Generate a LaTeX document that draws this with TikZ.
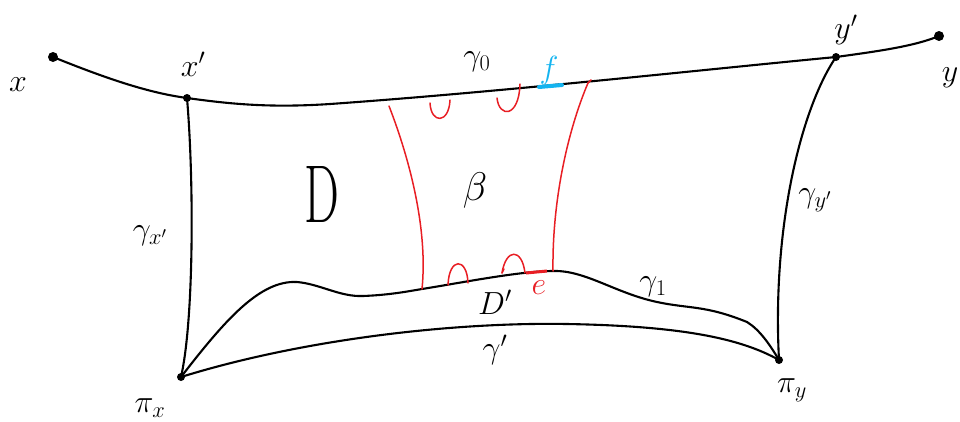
\documentclass[tikz,border=0pt]{standalone}
\usepackage{fix-cm}
\definecolor{myred}{RGB}{232,30,36}
\definecolor{myblue}{RGB}{20,180,240}
\tikzset{
  curve/.style={line width=2.1pt, black, line cap=round, line join=round},
  redline/.style={line width=1.5pt, myred, line cap=round},
  dot/.style={circle, fill=black, inner sep=0pt, minimum size=8pt},
  lbl/.style={font=\fontsize{32}{38}\selectfont, inner sep=0pt},
}
\begin{document}
\begin{tikzpicture}[x=1pt,y=-1pt]
\useasboundingbox (0,0) rectangle (960,421);
% points
\node[dot, minimum size=10pt] (X) at (53,57) {};
\node[dot] (xp) at (187,98) {};
\node[dot] (yp) at (836,57) {};
\node[dot, minimum size=10pt] (Y) at (939,36) {};
\node[dot] (px) at (181,377) {};
\node[dot] (py) at (779,360) {};
\coordinate (la) at (422,289);
\coordinate (rb) at (553,271);
\coordinate (lt) at (389,106);
\coordinate (rt) at (588,83);
% gamma_0
\draw[curve] (X.center) .. controls (110,80) and (150,93) .. (xp.center)
  .. controls (230,104) and (270,108) .. (330,104)
  .. controls (500,92) and (700,70) .. (yp.center)
  .. controls (880,51) and (915,46) .. (Y.center);
% gamma_x' and gamma_y'
\draw[curve] (xp.center) .. controls (194,180) and (194,320) .. (px.center);
\draw[curve] (yp.center) .. controls (800,110) and (772,230) .. (py.center);
% gamma_1
\draw[curve] (px.center) .. controls (225,320) and (260,280) .. (297,282)
  .. controls (320,284) and (340,297) .. (363,296)
  .. controls (390,295) and (410,291) .. (la)
  .. controls (460,283) and (520,271) .. (rb)
  .. controls (585,270) and (615,293) .. (657,302)
  .. controls (690,309) and (705,305) .. (747,322)
  .. controls (760,330) and (770,345) .. (py.center);
% gamma'
\draw[curve] (px.center) .. controls (300,340) and (450,322) .. (567,324)
  .. controls (680,326) and (740,338) .. (py.center);
% red lines
\draw[redline] (lt) .. controls (410,160) and (428,230) .. (la);
\draw[redline] (rt) .. controls (568,130) and (552,200) .. (rb);
\draw[redline] (588,83) -- (591,80);
% small red arcs at top
\draw[redline] (430,103) .. controls (431,124) and (449,124) .. (450,100);
\draw[redline] (497,98) .. controls (499,118) and (519,118) .. (520,84);
% small red arcs at bottom
\draw[redline] (448,285) .. controls (449,257) and (467,257) .. (468,283);
\draw[redline] (504,269) -- (502,273);
\draw[redline] (502,273) .. controls (506,248) and (522,248) .. (525,273);
% e and f segments
\draw[myred, line width=3pt] (526,273) -- (547,271);
\draw[myblue, line width=4pt, line cap=round] (539,87) -- (562,85);
% labels
\node[lbl] (lX) at (18,85) {$x$};
\node[lbl] (lxp) at (193,64) {$x'$};
\node[lbl] (lyp) at (846,30) {$y'$};
\node[lbl] (lY) at (950,78) {$y$};
\node[lbl] (lg0) at (477,62) {$\gamma_0$};
\node[lbl, text=myblue] (lf) at (549,70) {$f$};
\node[inner sep=0pt, xscale=0.6, font=\fontsize{82}{82}\selectfont] (lD) at (322,194) {D};
\node[lbl, font=\fontsize{40}{44}\selectfont] (lb) at (475,190) {$\beta$};
\node[lbl] (lgx) at (150,236) {$\gamma_{x'}$};
\node[lbl] (lgy) at (815,200) {$\gamma_{y'}$};
\node[lbl] (lDp) at (495,302) {$D'$};
\node[lbl, text=myred] (le) at (539,288) {$e$};
\node[lbl] (lg1) at (653,287) {$\gamma_1$};
\node[lbl] (lgp) at (495,350) {$\gamma'$};
\node[lbl] (lpx) at (150,408) {$\pi_x$};
\node[lbl] (lpy) at (792,390) {$\pi_y$};
\end{tikzpicture}
\end{document}
